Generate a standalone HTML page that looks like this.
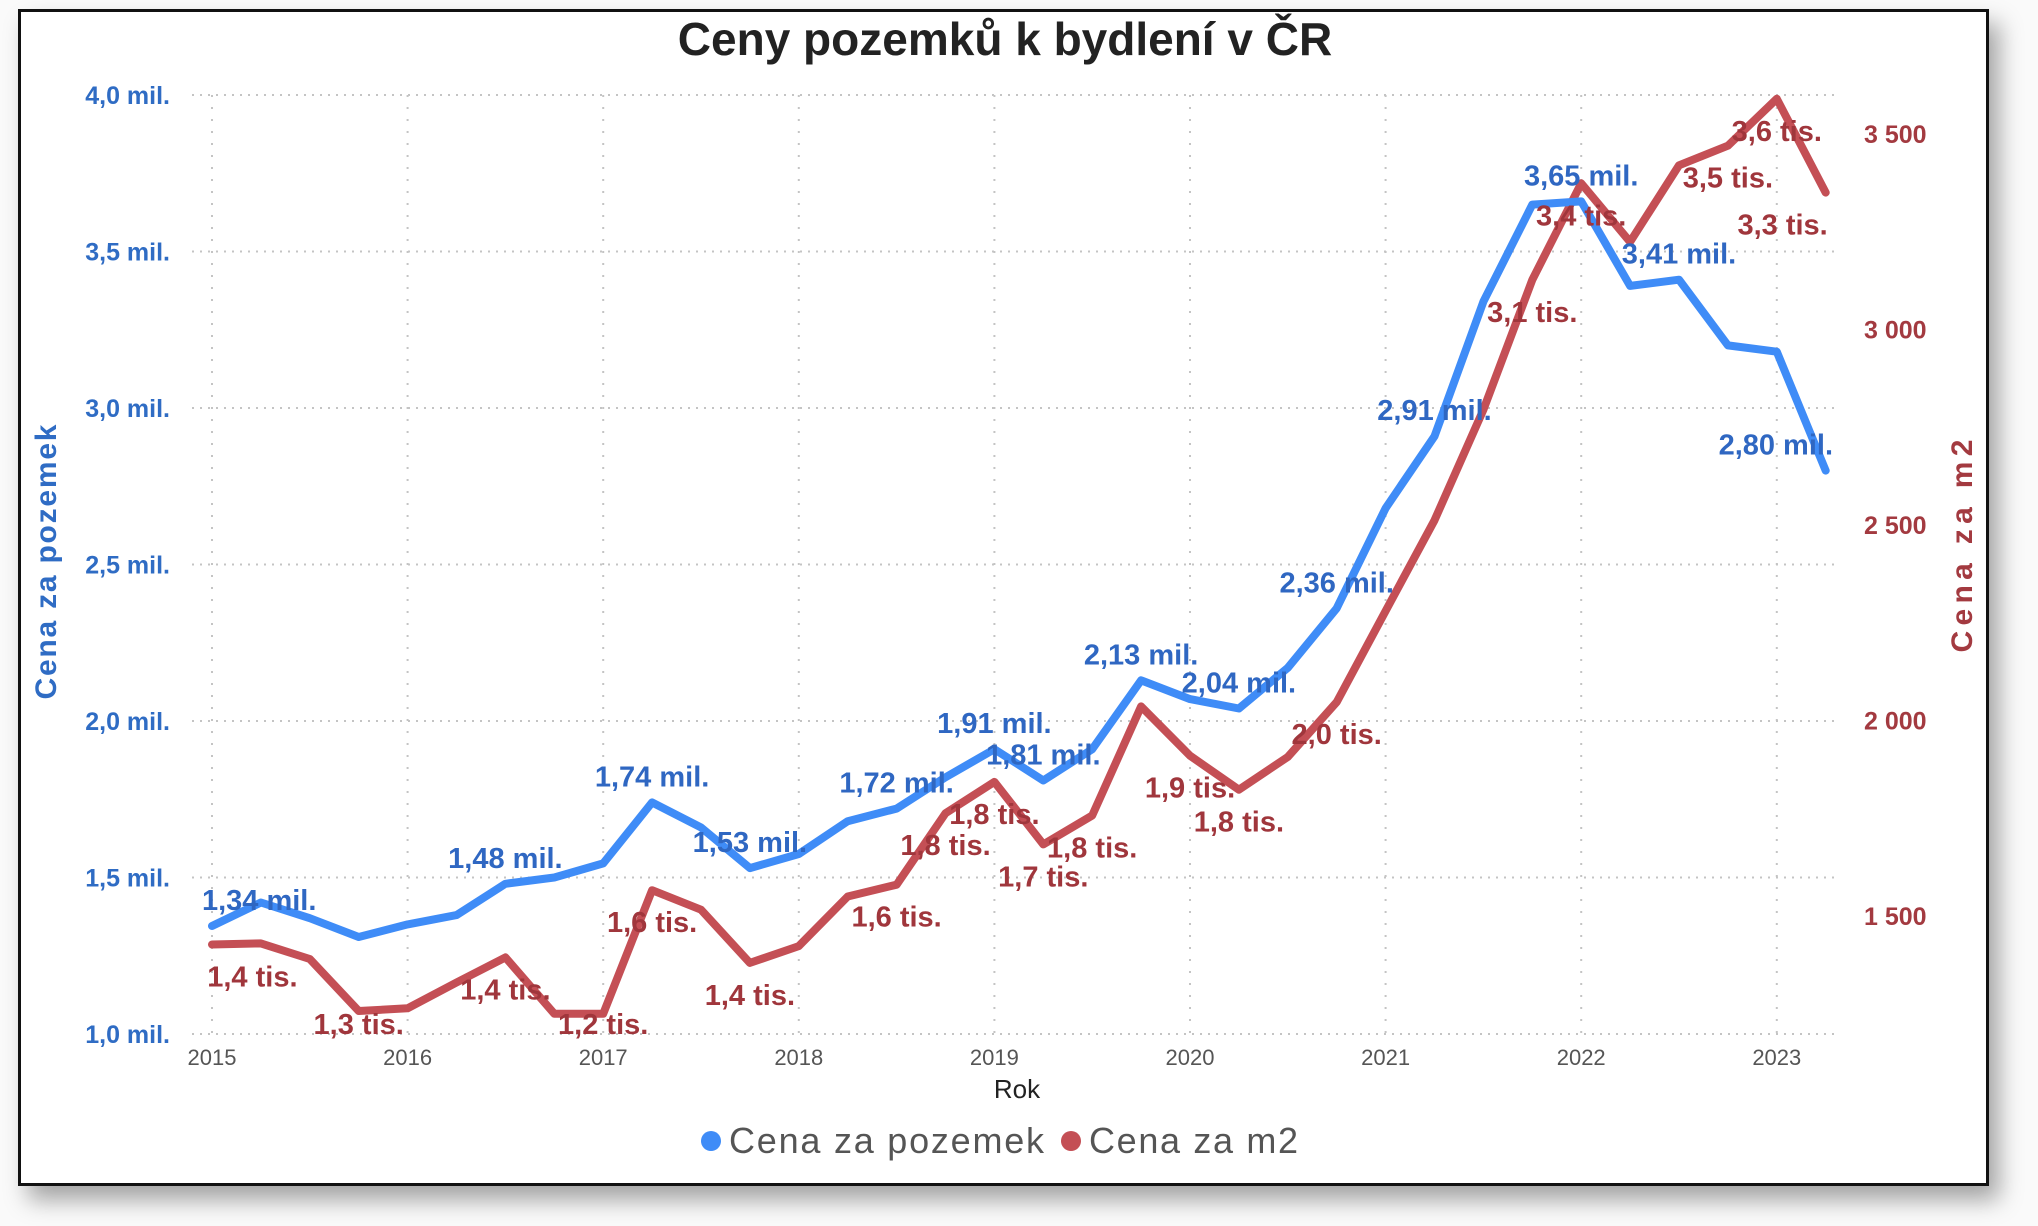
<!DOCTYPE html>
<html><head><meta charset="utf-8"><style>
html,body{margin:0;padding:0;background:#fff;}
#wrap{position:relative;width:2038px;height:1226px;overflow:hidden;background:#fafafa;}
#frame{position:absolute;left:18px;top:9px;width:1965px;height:1171px;border:3px solid #111;background:#fff;box-shadow:10px 14px 22px rgba(0,0,0,.35);}
svg{position:absolute;left:0;top:0;}
text{font-family:"Liberation Sans",Arial,sans-serif;}
</style></head><body>
<div id="wrap">
<div id="frame"></div>
<svg id="chart" width="2038" height="1226">
<text x="1005" y="55" text-anchor="middle" font-size="46" font-weight="bold" fill="#222">Ceny pozemků k bydlení v ČR</text>
<g id="grid"></g>
<g id="axes"></g>
<g id="series"></g>
<g id="labels"></g>
<text transform="translate(56,562) rotate(-90)" text-anchor="middle" font-size="30" font-weight="bold" fill="#2f6cc4" textLength="275">Cena za pozemek</text>
<text transform="translate(1972,546) rotate(-90)" text-anchor="middle" font-size="30" font-weight="bold" fill="#a33a40" textLength="213">Cena za m2</text>
<text x="1017" y="1098" text-anchor="middle" font-size="26" fill="#222">Rok</text>
<g>
<circle cx="711" cy="1141" r="10" fill="#3f8cf7"/>
<text x="729" y="1153" font-size="36" fill="#555" textLength="315">Cena za pozemek</text>
<circle cx="1071" cy="1141" r="10" fill="#c44f55"/>
<text x="1089" y="1153" font-size="36" fill="#555" textLength="209">Cena za m2</text>
</g>
</svg>
</div>
<script>
const years = [2015,2016,2017,2018,2019,2020,2021,2022,2023];
const leftTicks = [1.0,1.5,2.0,2.5,3.0,3.5,4.0];
const leftTickLabels = ["1,0 mil.","1,5 mil.","2,0 mil.","2,5 mil.","3,0 mil.","3,5 mil.","4,0 mil."];
const rightTicks = [1500,2000,2500,3000,3500];
const rightTickLabels = ["1 500","2 000","2 500","3 000","3 500"];
const pozemek = [1.345,1.42,1.37,1.31,1.35,1.38,1.48,1.50,1.545,1.74,1.66,1.53,1.575,1.68,1.72,1.82,1.91,1.81,1.91,2.13,2.07,2.04,2.17,2.36,2.68,2.91,3.34,3.65,3.66,3.39,3.41,3.20,3.18,2.80];
const m2 = [1427,1430,1390,1257,1264,1330,1394,1250,1250,1566,1516,1380,1423,1550,1580,1763,1843,1683,1757,2036,1910,1823,1907,2047,2280,2512,2795,3127,3374,3224,3420,3470,3590,3350];
const blueLabelIdx = [0,6,9,11,14,16,17,19,21,23,25,28,30,33];
const blueLabelText = ["1,34 mil.","1,48 mil.","1,74 mil.","1,53 mil.","1,72 mil.","1,91 mil.","1,81 mil.","2,13 mil.","2,04 mil.","2,36 mil.","2,91 mil.","3,65 mil.","3,41 mil.","2,80 mil."];
const redLabelIdx = [0,3,6,8,9,11,14,15,16,17,18,20,21,23,27,28,31,32,33];
const redLabelText = ["1,4 tis.","1,3 tis.","1,4 tis.","1,2 tis.","1,6 tis.","1,4 tis.","1,6 tis.","1,8 tis.","1,8 tis.","1,7 tis.","1,8 tis.","1,9 tis.","1,8 tis.","2,0 tis.","3,1 tis.","3,4 tis.","3,5 tis.","3,6 tis.","3,3 tis."];

const NS="http://www.w3.org/2000/svg";
const X0=212, YEARW=195.6, PL=192, PR=1837, PT=95, PB=1034;
function xQ(i){return X0+i*YEARW/4;}
function xYear(y){return X0+(y-2015)*YEARW;}
function yL(v){return 1034-(v-1.0)*313;}
function yR(v){return 916-(v-1500)*0.391;}
function mk(tag,attrs,parent){const e=document.createElementNS(NS,tag);for(const k in attrs)e.setAttribute(k,attrs[k]);parent.appendChild(e);return e;}
const grid=document.getElementById('grid'),axes=document.getElementById('axes'),series=document.getElementById('series'),labels=document.getElementById('labels');

leftTicks.forEach((t,i)=>{
  const l=mk('line',{x1:PL,x2:PR,y1:yL(t),y2:yL(t),stroke:'#c4c4c4','stroke-width':2,'stroke-dasharray':'2 6'},grid);
  
  
  const tx=mk('text',{x:170,y:yL(t)+9,'text-anchor':'end','font-size':25,'font-weight':'bold',fill:'#2f6cc4'},axes);
  tx.textContent=leftTickLabels[i];
  
  
});
rightTicks.forEach((t,i)=>{
  const tx=mk('text',{x:1864,y:yR(t)+9,'font-size':25,'font-weight':'bold',fill:'#a33a40'},axes);
  tx.textContent=rightTickLabels[i];
  
  
});
years.forEach(y=>{
  const l=mk('line',{x1:xYear(y),x2:xYear(y),y1:PT,y2:PB,stroke:'#c4c4c4','stroke-width':2,'stroke-dasharray':'2 10'},grid);
  
  
  const tx=mk('text',{x:xYear(y),y:1065,'text-anchor':'middle','font-size':22,fill:'#555'},axes);
  tx.textContent=String(y);
  
  
});
function drawLine(vals,fy,color,name){
  const d=vals.map((v,i)=>(i?'L':'M')+xQ(i).toFixed(1)+' '+fy(v).toFixed(1)).join(' ');
  const p=mk('path',{d:d,fill:'none',stroke:color,'stroke-width':8,'stroke-linejoin':'round','stroke-linecap':'round'},series);
  
  
}
drawLine(m2,yR,'#c44f55','line-cena-za-m2');
drawLine(pozemek,yL,'#3f8cf7','line-cena-za-pozemek');
function addLabel(txt,cx,cy,color,name){
  const w=txt.length*13.6;
  let x=cx; if(x-w/2<198)x=198+w/2; if(x+w/2>1837)x=1837-w/2;
  const t=mk('text',{x:x,y:cy+11,'text-anchor':'middle','font-size':29,'font-weight':'bold',fill:color},labels);
  t.textContent=txt;
  
  
}
blueLabelIdx.forEach((idx,k)=>addLabel(blueLabelText[k],xQ(idx),yL(pozemek[idx])-27,'#2f67c2','label-pozemek'));
redLabelIdx.forEach((idx,k)=>addLabel(redLabelText[k],xQ(idx),Math.min(yR(m2[idx])+31,1023),'#a0363c','label-m2'));
</script>
</body></html>
